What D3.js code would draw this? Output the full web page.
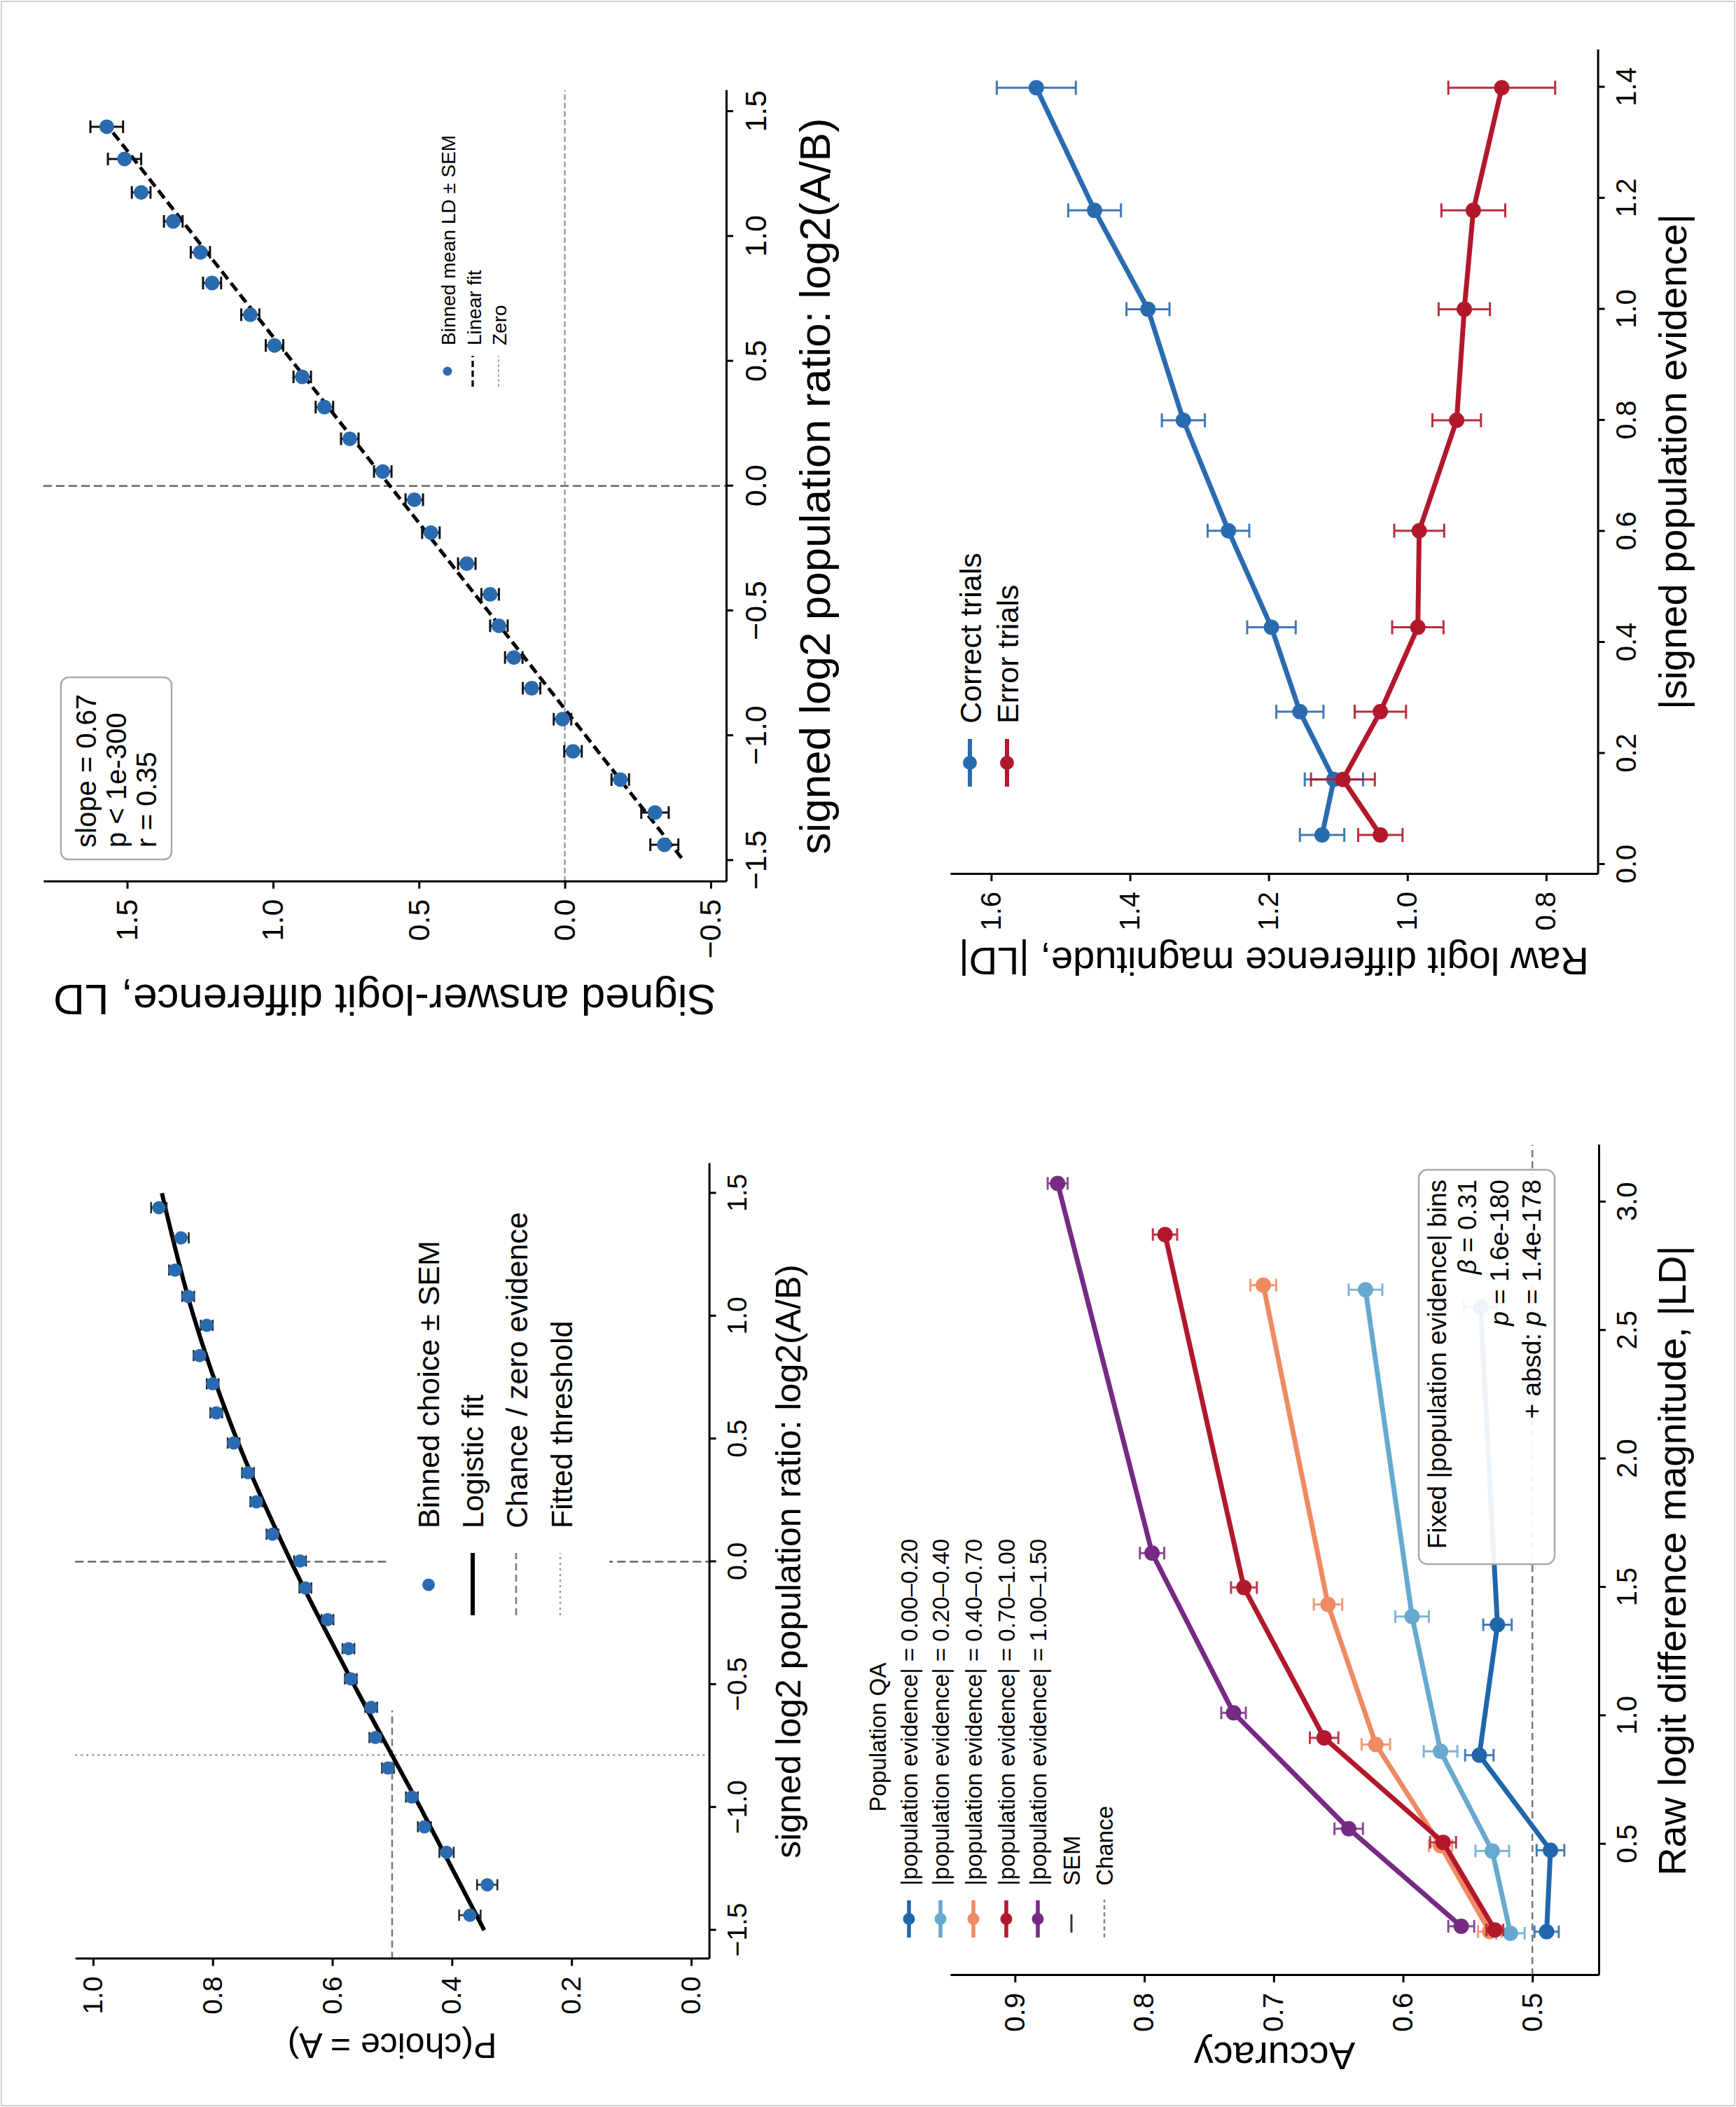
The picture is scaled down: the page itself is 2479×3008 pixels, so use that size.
<!DOCTYPE html>
<html><head><meta charset="utf-8">
<script src="https://cdn.jsdelivr.net/npm/d3@7/dist/d3.min.js"></script>
<style>html,body{margin:0;padding:0;background:#fff;}</style>
</head><body>
<script>
// ================= DATA =================
// Panel A: signed answer-logit difference vs signed log2 population ratio
const sldRatio = [-1.437,-1.308,-1.176,-1.063,-0.934,-0.810,-0.687,-0.560,-0.434,-0.311,-0.187,-0.055,0.058,0.189,0.316,0.437,0.563,0.686,0.813,0.936,1.060,1.176,1.310,1.439];
const sldLD    = [-0.341,-0.309,-0.190,-0.028,0.008,0.114,0.175,0.226,0.256,0.336,0.459,0.516,0.624,0.737,0.824,0.900,0.995,1.078,1.209,1.249,1.342,1.452,1.509,1.570];
const sldSEM   = [0.048,0.047,0.030,0.030,0.030,0.030,0.030,0.030,0.030,0.030,0.030,0.030,0.030,0.030,0.030,0.030,0.030,0.031,0.031,0.033,0.032,0.032,0.057,0.056];
const sldFitX  = [-1.49, 1.47];
const sldFitY  = [-0.40, 1.585];
const sldStats = ["slope = 0.67", "p < 1e-300", "r = 0.35"];
const sldLegend = ["Binned mean LD \u00b1 SEM", "Linear fit", "Zero"];

// Panel B: P(choice = A) vs signed log2 population ratio
const pcRatio  = [-1.439,-1.315,-1.183,-1.079,-0.958,-0.840,-0.716,-0.593,-0.477,-0.354,-0.236,-0.107,0.003,0.112,0.244,0.362,0.483,0.606,0.724,0.839,0.962,1.080,1.187,1.318,1.441];
const pcChoice = [0.370,0.341,0.409,0.446,0.467,0.507,0.528,0.535,0.569,0.573,0.608,0.645,0.654,0.700,0.727,0.741,0.765,0.794,0.800,0.822,0.810,0.841,0.863,0.853,0.890];
const pcSEM    = [0.018,0.017,0.012,0.011,0.010,0.010,0.010,0.010,0.010,0.010,0.010,0.010,0.010,0.010,0.010,0.010,0.010,0.010,0.010,0.010,0.010,0.010,0.010,0.013,0.013];
const logisticX = [-1.5,-1.0,-0.5,0.0,0.5,1.0,1.5];
const logisticY = [0.346,0.453,0.564,0.669,0.760,0.832,0.885];
const pcThreshold = -0.787;
const pcLegend = ["Binned choice \u00b1 SEM","Logistic fit","Chance / zero evidence","Fitted threshold"];

// Panel C: raw |LD| vs |signed population evidence|
const rawEvidence   = [0.053,0.153,0.275,0.427,0.601,0.800,1.000,1.178,1.399];
const rawCorrect    = [1.123,1.106,1.155,1.196,1.258,1.323,1.374,1.451,1.535];
const rawCorrectSEM = [0.032,0.042,0.034,0.035,0.030,0.031,0.031,0.038,0.057];
const rawError      = [1.039,1.093,1.039,0.985,0.983,0.929,0.918,0.905,0.864];
const rawErrorSEM   = [0.032,0.046,0.037,0.037,0.036,0.035,0.037,0.046,0.077];
const rawLegend = ["Correct trials","Error trials"];

// Panel D: accuracy vs raw |LD| within fixed evidence bins
const accBins = ["|population evidence| = 0.00\u20130.20","|population evidence| = 0.20\u20130.40","|population evidence| = 0.40\u20130.70","|population evidence| = 0.70\u20131.00","|population evidence| = 1.00\u20131.50"];
const accLD = [
  [0.159,0.476,0.846,1.354,2.590],
  [0.153,0.473,0.861,1.386,2.658],
  [0.160,0.494,0.888,1.433,2.676],
  [0.166,0.507,0.914,1.499,2.873],
  [0.180,0.560,1.011,1.633,3.072]];
const accAcc = [
  [0.489,0.486,0.541,0.527,0.540],
  [0.517,0.531,0.571,0.593,0.629],
  [0.533,0.571,0.621,0.658,0.708],
  [0.529,0.569,0.661,0.723,0.784],
  [0.555,0.642,0.731,0.794,0.867]];
const accSEM = [
  [0.0094,0.0107,0.011,0.011,0.013],
  [0.011,0.013,0.013,0.013,0.013],
  [0.009,0.009,0.011,0.011,0.010],
  [0.0065,0.010,0.011,0.010,0.0094],
  [0.010,0.011,0.0095,0.0094,0.0077]];
const accStats = ["Fixed |population evidence| bins", "\u03b2 = 0.31", "p = 1.6e-180", "+ absd: p = 1.4e-178"];

// Tick values
const ratioTicks = [-1.5,-1.0,-0.5,0.0,0.5,1.0,1.5];
const sldTicks   = [-0.5,0.0,0.5,1.0,1.5];
const pcTicks    = [0.0,0.2,0.4,0.6,0.8,1.0];
const evTicks    = [0.0,0.2,0.4,0.6,0.8,1.0,1.2,1.4];
const rawTicks   = [0.8,1.0,1.2,1.4,1.6];
const accTicks   = [0.5,0.6,0.7,0.8,0.9];
const accLDTicks = [0.5,1.0,1.5,2.0,2.5,3.0];

// ================= DRAWING =================
const FONT = '"Liberation Sans", Arial, Helvetica, sans-serif';
const BLUE = '#2a6bb0', RED = '#b2182b';
const accColors = ['#2166ac','#67a9cf','#ef8a62','#b2182b','#762a83'];
const f1 = d3.format('.1f');

const svg = d3.select('body').append('svg').attr('width',2479).attr('height',3008).style('display','block');
svg.append('rect').attr('width',2479).attr('height',3008).attr('fill','#fff');
svg.append('rect').attr('x',2).attr('y',2).attr('width',2475).attr('height',3004)
   .attr('fill','none').attr('stroke','#cfcfcf').attr('stroke-width',2);
// The whole figure is laid out landscape (3008 x 2479) and turned a quarter turn counter-clockwise.
const root = svg.append('g').attr('transform','translate(0,3008) rotate(-90)').attr('font-family',FONT);

function axes(g, x, y, o){
  const ax = g.append('g').attr('transform',`translate(0,${y.range()[0]})`)
    .call(d3.axisBottom(x).tickValues(o.xt).tickFormat(o.xf||f1).tickSize(10).tickPadding(o.bpad||16).tickSizeOuter(0));
  const ay = g.append('g').attr('transform',`translate(${x.range()[0]},0)`)
    .call(d3.axisLeft(y).tickValues(o.yt).tickFormat(o.yf||f1).tickSize(10).tickPadding(o.lpad||15).tickSizeOuter(0));
  [ax,ay].forEach(a=>{
    a.attr('font-family',FONT).attr('font-size',o.fs);
    a.select('.domain').attr('stroke','#000').attr('stroke-width',3);
    a.selectAll('.tick line').attr('stroke','#000').attr('stroke-width',3);
    a.selectAll('.tick text').attr('fill','#000');
  });
}
function xLabel(g, txt, cx, base, fs){
  g.append('text').attr('x',cx).attr('y',base).attr('text-anchor','middle').attr('font-size',fs).attr('fill','#000').text(txt);
}
function yLabel(g, txt, base, cy, fs){
  g.append('text').attr('transform',`translate(${base},${cy}) rotate(-90)`).attr('text-anchor','middle')
   .attr('font-size',fs).attr('fill','#000').text(txt);
}
function errbars(g, xs, ys, es, x, y, color, cap, w, op){
  const eg = g.append('g').attr('stroke',color).attr('stroke-width',w).attr('opacity',op||1);
  xs.forEach((xv,i)=>{
    const X = x(xv), Y1 = y(ys[i]-es[i]), Y2 = y(ys[i]+es[i]);
    eg.append('line').attr('x1',X).attr('x2',X).attr('y1',Y1).attr('y2',Y2);
    eg.append('line').attr('x1',X-cap).attr('x2',X+cap).attr('y1',Y1).attr('y2',Y1);
    eg.append('line').attr('x1',X-cap).attr('x2',X+cap).attr('y1',Y2).attr('y2',Y2);
  });
}
function dots(g, xs, ys, x, y, color, r){
  g.append('g').selectAll('circle').data(xs).join('circle')
   .attr('cx',(d)=>x(d)).attr('cy',(d,i)=>y(ys[i])).attr('r',r).attr('fill',color);
}
function hline(g, y0, x0, x1, color, w, dash){
  g.append('line').attr('x1',x0).attr('x2',x1).attr('y1',y0).attr('y2',y0)
   .attr('stroke',color).attr('stroke-width',w).attr('stroke-dasharray',dash||null);
}
function vline(g, x0, y0, y1, color, w, dash){
  g.append('line').attr('x1',x0).attr('x2',x0).attr('y1',y0).attr('y2',y1)
   .attr('stroke',color).attr('stroke-width',w).attr('stroke-dasharray',dash||null);
}

// ---------- Panel A: Signed LD ----------
{
  const g = root.append('g');
  const x = d3.scaleLinear().domain([-1.585,1.585]).range([1749.3,2879.1]);
  const y = d3.scaleLinear().domain([-0.553,1.787]).range([1037,62]);
  vline(g, x(0), y(1.787), y(-0.553), '#666', 2.5, '12,6');
  hline(g, y(0), x(-1.585), x(1.585), '#8a8a8a', 2, '8,4');
  g.append('path').datum(sldFitX.map((v,i)=>[v,sldFitY[i]]))
   .attr('d', d3.line().x(d=>x(d[0])).y(d=>y(d[1])))
   .attr('fill','none').attr('stroke','#000').attr('stroke-width',5).attr('stroke-dasharray','14,7');
  errbars(g, sldRatio, sldLD, sldSEM, x, y, '#111', 9, 3);
  dots(g, sldRatio, sldLD, x, y, BLUE, 10.5);
  axes(g, x, y, {xt:ratioTicks, yt:sldTicks, fs:43});
  xLabel(g, 'signed log2 population ratio: log2(A/B)', 2314, 1185, 62);
  yLabel(g, 'Signed answer-logit difference, LD', 1602, 549.5, 62);
  // stats box
  g.append('rect').attr('x',1781).attr('y',87).attr('width',260).attr('height',158).attr('rx',11)
   .attr('fill','#fff').attr('stroke','#aaa').attr('stroke-width',2.5);
  sldStats.forEach((s,i)=> g.append('text').attr('x',1798).attr('y',137+i*43).attr('font-size',40).text(s));
  // legend
  const lg = g.append('g');
  lg.append('circle').attr('cx',2478).attr('cy',639).attr('r',6.5).attr('fill',BLUE);
  hline(lg, 675, 2456, 2500, '#000', 3.3, '9,5');
  hline(lg, 712, 2456, 2500, '#999', 1.6, '4,3');
  sldLegend.forEach((s,i)=> lg.append('text').attr('x',2515).attr('y',650+i*36.5).attr('font-size',28).text(s));
}

// ---------- Panel B: P(choice = A) ----------
{
  const g = root.append('g');
  const x = d3.scaleLinear().domain([-1.617,1.621]).range([211.4,1347.0]);
  const y = d3.scaleLinear().domain([-0.03,1.03]).range([1012.6,107.3]);
  hline(g, y(0.5), x(-1.617), x(1.621), '#777', 2.5, '10,6');
  vline(g, x(0), y(1.03), y(-0.03), '#666', 2.5, '12,6');
  vline(g, x(pcThreshold), y(1.03), y(-0.03), '#999', 2.5, '3,5');
  // legend background (opaque)
  g.append('rect').attr('x',566).attr('y',553).attr('width',784).attr('height',317).attr('fill','#fff');
  g.append('path').datum(logisticX.map((v,i)=>[v,logisticY[i]]))
   .attr('d', d3.line().curve(d3.curveMonotoneX).x(d=>x(d[0])).y(d=>y(d[1])))
   .attr('fill','none').attr('stroke','#000').attr('stroke-width',6);
  errbars(g, pcRatio, pcChoice, pcSEM, x, y, '#222', 8, 2.5);
  dots(g, pcRatio, pcChoice, x, y, BLUE, 9.5);
  axes(g, x, y, {xt:ratioTicks, yt:pcTicks, fs:39});
  xLabel(g, 'signed log2 population ratio: log2(A/B)', 779, 1143, 50);
  yLabel(g, 'P(choice = A)', 105, 560, 50);
  const lg = g.append('g');
  lg.append('circle').attr('cx',745.5).attr('cy',612).attr('r',9).attr('fill',BLUE);
  hline(lg, 675, 702, 791, '#000', 6);
  hline(lg, 737, 702, 791, '#777', 2.5, '10,6');
  hline(lg, 800, 702, 791, '#999', 2.5, '3,5');
  pcLegend.forEach((s,i)=> lg.append('text').attr('x',826).attr('y',627+i*63.2).attr('font-size',43).text(s));
}

// ---------- Panel C: Raw |LD| vs |evidence| ----------
{
  const g = root.append('g');
  const x = d3.scaleLinear().domain([-0.0175,1.4675]).range([1760.1,2937.1]);
  const y = d3.scaleLinear().domain([0.7256,1.659]).range([2281.6,1357]);
  const line = d3.line().x(d=>x(d[0])).y(d=>y(d[1]));
  [[rawCorrect,rawCorrectSEM,BLUE],[rawError,rawErrorSEM,RED]].forEach(([vals,sem,c])=>{
    g.append('path').datum(rawEvidence.map((v,i)=>[v,vals[i]])).attr('d',line)
     .attr('fill','none').attr('stroke',c).attr('stroke-width',7).attr('stroke-linejoin','round');
    errbars(g, rawEvidence, vals, sem, x, y, c, 10, 3, 0.9);
    dots(g, rawEvidence, vals, x, y, c, 11);
  });
  axes(g, x, y, {xt:evTicks, yt:rawTicks, fs:40});
  xLabel(g, '|signed population evidence|', 2349, 2408, 56);
  yLabel(g, 'Raw logit difference magnitude, |LD|', 1655, 1819, 56);
  const lg = g.append('g');
  [BLUE,RED].forEach((c,i)=>{
    hline(lg, 1385+i*53, 1885, 1953, c, 6);
    lg.append('circle').attr('cx',1919).attr('cy',1385+i*53).attr('r',10).attr('fill',c);
    lg.append('text').attr('x',1975).attr('y',1401+i*53).attr('font-size',43).text(rawLegend[i]);
  });
}

// ---------- Panel D: Accuracy vs |LD| ----------
{
  const g = root.append('g');
  const x = d3.scaleLinear().domain([-0.011,3.222]).range([187.9,1373.5]);
  const y = d3.scaleLinear().domain([0.4487,0.95]).range([2283,1357]);
  hline(g, y(0.5), x(-0.011), x(3.222), '#777', 2.5, '10,6');
  const line = d3.line().x(d=>x(d[0])).y(d=>y(d[1]));
  accLD.forEach((xs,k)=>{
    const c = accColors[k];
    g.append('path').datum(xs.map((v,i)=>[v,accAcc[k][i]])).attr('d',line)
     .attr('fill','none').attr('stroke',c).attr('stroke-width',7).attr('stroke-linejoin','round');
    errbars(g, xs, accAcc[k], accSEM[k], x, y, c, 9, 3, 0.85);
    dots(g, xs, accAcc[k], x, y, c, 11);
  });
  // stats box
  g.append('rect').attr('x',775).attr('y',2026).attr('width',563).attr('height',194).attr('rx',12)
   .attr('fill','#fff').attr('fill-opacity',0.92).attr('stroke','#aaa').attr('stroke-width',2.5);
  const tb = g.append('g').attr('font-size',37).attr('text-anchor','end');
  tb.append('text').attr('x',1324).attr('y',2065).text(accStats[0]);
  const t2 = tb.append('text').attr('x',1324).attr('y',2108);
  t2.append('tspan').attr('font-style','italic').text(accStats[1].slice(0,1));
  t2.append('tspan').text(accStats[1].slice(1));
  const t3 = tb.append('text').attr('x',1324).attr('y',2154);
  t3.append('tspan').attr('font-style','italic').text(accStats[2].slice(0,1));
  t3.append('tspan').text(accStats[2].slice(1));
  const t4 = tb.append('text').attr('x',1324).attr('y',2200);
  const pIdx = accStats[3].indexOf('p =');
  t4.append('tspan').text(accStats[3].slice(0,pIdx));
  t4.append('tspan').attr('font-style','italic').text('p');
  t4.append('tspan').text(accStats[3].slice(pIdx+1));

  axes(g, x, y, {xt:accLDTicks, yt:accTicks, fs:40});
  xLabel(g, 'Raw logit difference magnitude, |LD|', 780, 2407, 56);
  yLabel(g, 'Accuracy', 92, 1820, 56);
  // legend
  const lg = g.append('g');
  lg.append('text').attr('x',528).attr('y',1265).attr('text-anchor','middle').attr('font-size',33).text('Population QA');
  const rows = [1298,1343,1390,1437,1482,1530,1577];
  accBins.forEach((s,k)=>{
    hline(lg, rows[k], 242, 295, accColors[k], 5.5);
    lg.append('circle').attr('cx',268.5).attr('cy',rows[k]).attr('r',8.5).attr('fill',accColors[k]);
    lg.append('text').attr('x',316).attr('y',rows[k]+11.5).attr('font-size',33).text(s);
  });
  hline(lg, rows[5], 249, 275, '#333', 3);
  lg.append('text').attr('x',316).attr('y',rows[5]+11.5).attr('font-size',33).text('SEM');
  hline(lg, rows[6], 242, 296, '#888', 2.5, '6,4');
  lg.append('text').attr('x',316).attr('y',rows[6]+11.5).attr('font-size',33).text('Chance');
}
</script>
</body></html>
